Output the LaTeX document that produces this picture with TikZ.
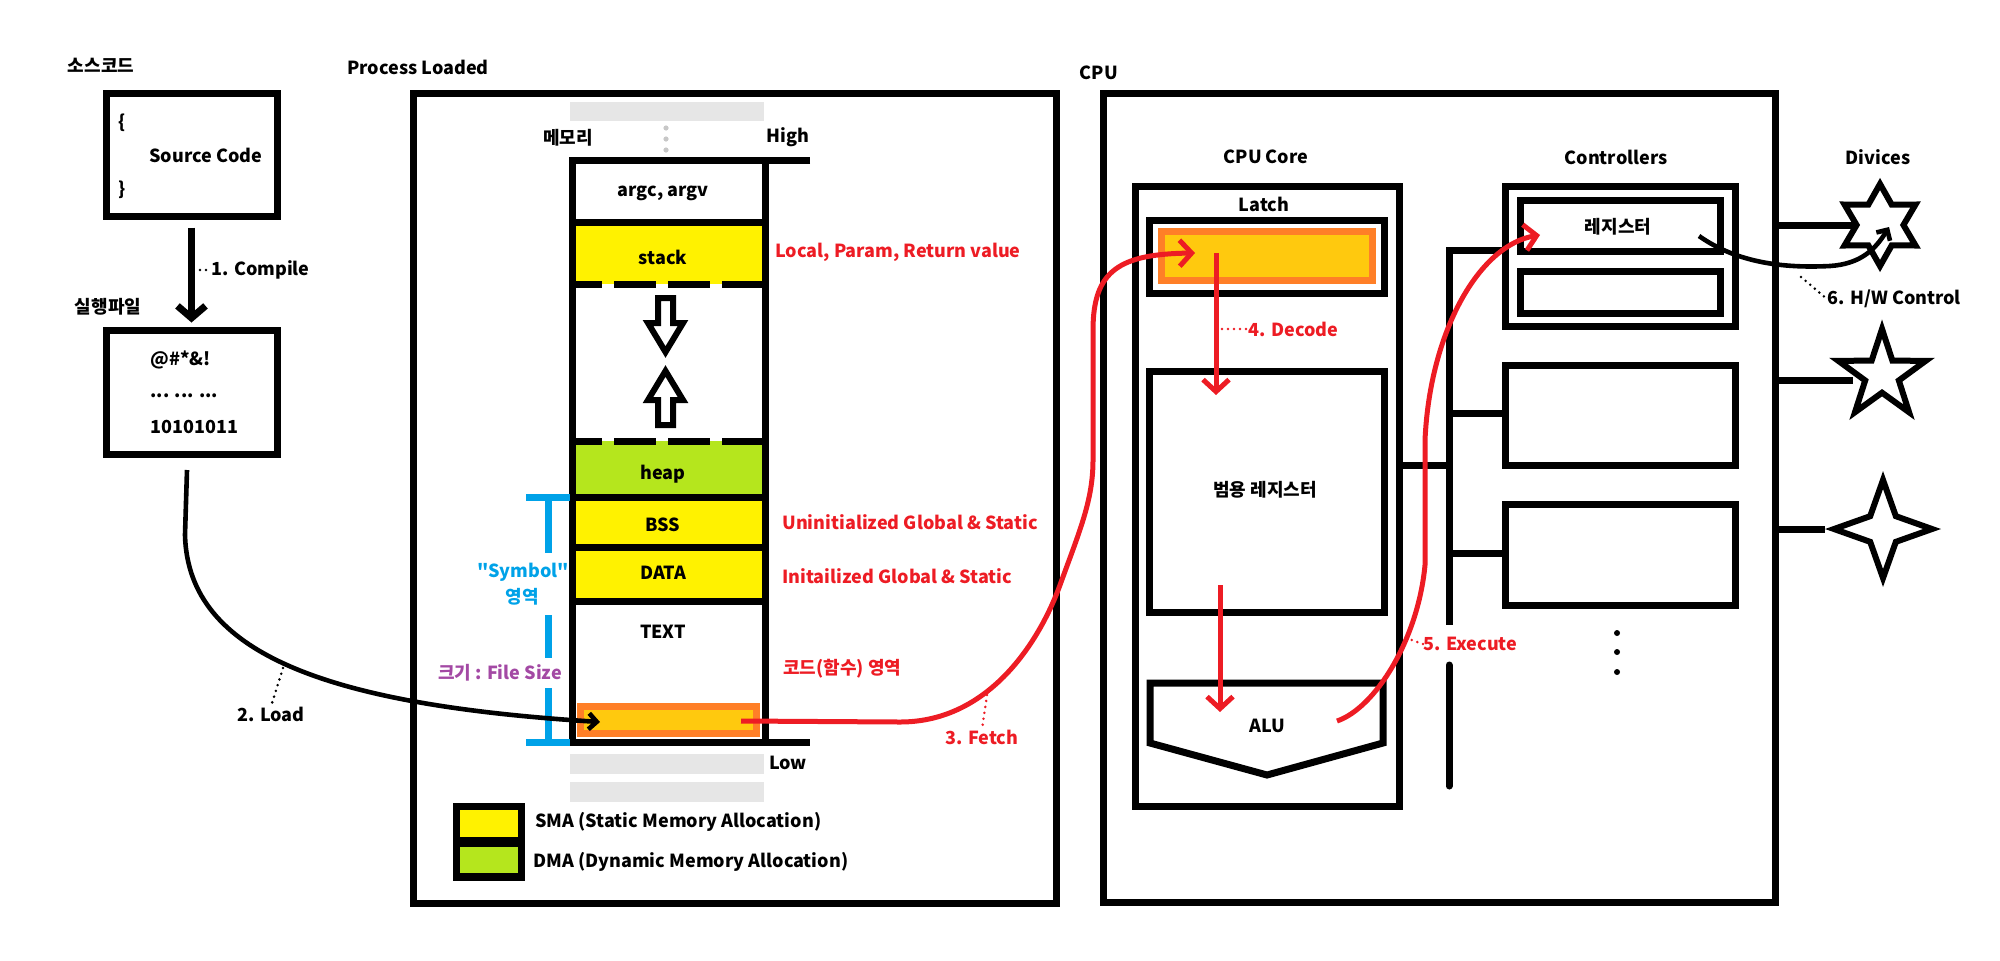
\documentclass[tikz,border=0pt]{standalone}
\usepackage{fontspec}
\setmainfont{Noto Sans CJK KR}[Ligatures=TeXOff]
\usetikzlibrary{shapes,arrows.meta,positioning}

\definecolor{pyellow}{HTML}{FFF200}
\definecolor{pgreen}{HTML}{B5E61D}
\definecolor{porange}{HTML}{FF7F27}
\definecolor{pgold}{HTML}{FFC90E}
\definecolor{pred}{HTML}{ED1C24}
\definecolor{pblue}{HTML}{00A2E8}
\definecolor{ppurple}{HTML}{A349A4}
\definecolor{pgrey}{HTML}{E6E6E6}

\begin{document}
\begin{tikzpicture}[x=0.5pt,y=-0.5pt,
  box/.style={draw,line width=3.5pt,inner sep=0pt},
  wall/.style={line width=3.5pt},
  txt/.style={font=\bfseries\fontsize{9}{10}\selectfont,inner sep=0pt},
  redtxt/.style={txt,text=pred},
  hotbar/.style={draw=porange,fill=pgold,line width=3.5pt,inner sep=0pt},
  blkarrow/.style={line width=3.5pt,-{Straight Barb[length=6pt,width=14pt]}},
  thinarrow/.style={line width=2.3pt,-{Straight Barb[length=4pt,width=8pt]}},
  redarrow/.style={pred,line width=2.5pt,-{Straight Barb[length=6pt,width=13pt]}},
  leader/.style={line width=1.4pt,line cap=round,dash pattern=on 0pt off 3pt},
  hollow/.style={line width=3pt,line join=miter},
  devstar/.style={star,draw,line width=3pt,inner sep=0pt}]

\useasboundingbox (0,0) rectangle (2000,960);

% Source code
\node[txt] (srctitle) at (101,65) {소스코드};
\node[box,minimum width=85.5pt,minimum height=61.5pt] (srcbox) at (191.5,154.5) {};
\node[txt,anchor=west] (bropen) at (118,123) {\{};
\node[txt,anchor=west] (srctext) at (149,155) {Source Code};
\node[txt,anchor=west] (brclose) at (118,190) {\}};

% Executable file
\node[txt] (exetitle) at (108,307) {실행파일};
\node[box,minimum width=85.5pt,minimum height=62pt] (exebox) at (191.5,392) {};
\node[txt,anchor=west] (exe1) at (150,360) {@\#*\&!};
\node[txt,anchor=west] (exe2) at (150,396) {... ... ...};
\node[txt,anchor=west] (exe3) at (150,427) {10101011};

% 1. Compile
\draw[blkarrow,shorten <=4pt,shorten >=2pt] (srcbox) -- (exebox);
\node[txt,anchor=west] (compile) at (211,270) {1. Compile};
\coordinate (compdot) at (200,270);
\draw[leader] (compdot) -- ([xshift=-2pt]compile.west);

% Process loaded
\node[txt,anchor=west] (proctitle) at (347,67) {Process Loaded};
\node[box,minimum width=321.5pt,minimum height=405pt] (procbox) at (734.5,498) {};

% memory column
\fill[pgrey] (570,102) rectangle (764,121);
\foreach \y in {128,139,150} \fill[pgrey!70!gray] (666,\y) circle (2.6);
\node[txt] (memlbl) at (568,138) {메모리};
\node[txt] (high) at (788,137) {High};
\fill[pyellow] (572,222) rectangle (765,284);
\fill[pgreen] (572,441) rectangle (765,497);
\fill[pyellow] (572,497) rectangle (765,601);
\draw[wall] (810,160) -- (572,160) -- (572,742) -- (810,742);
\draw[wall] (765,160) -- (765,742);
\foreach \y in {222,497,547,601} \draw[wall] (572,\y) -- (765,\y);
\foreach \y in {284,441} \draw[wall,dash pattern=on 21pt off 6pt,dash phase=6pt] (572,\y) -- (765,\y);
\node[txt] (argc) at (663,193) {argc, argv};
\node[txt] (stack) at (663,257) {stack};
\node[txt] (heap) at (663,474) {heap};
\node[txt] (bss) at (663,525) {BSS};
\node[txt] (data) at (663,573) {DATA};
\node[txt] (text) at (663,632) {TEXT};
\draw[hollow] (658,298) -- (673,298) -- (673,323) -- (683,323) -- (665.5,352) -- (648,323) -- (658,323) -- cycle;
\draw[hollow] (658,425) -- (673,425) -- (673,400) -- (683,400) -- (665.5,371) -- (648,400) -- (658,400) -- cycle;
\node[hotbar,minimum width=88pt,minimum height=13.5pt] (textbar) at (668.5,720) {};
\fill[pgrey] (570,754) rectangle (764,774);
\fill[pgrey] (570,782) rectangle (764,802);
\node[txt] (low) at (788,763) {Low};

% symbol bracket
\draw[pblue,line width=3.5pt] (526,497) -- (570,497) (548,497) -- (548,553) (548,615) -- (548,658)
  (548,688) -- (548,742) (526,742) -- (570,742);
\node[txt,text=pblue] (symbol) at (523,572) {"Symbol"};
\node[txt,text=pblue] (symarea) at (522,597) {영역};
\node[txt,text=ppurple] (fsize) at (500,673) {크기 : File Size};

% red notes
\node[redtxt,anchor=west] (stacknote) at (775,252) {Local, Param, Return value};
\node[redtxt,anchor=west] (bssnote) at (782,522) {Uninitialized Global \& Static};
\node[redtxt,anchor=west] (datanote) at (782,576) {Initailized Global \& Static};
\node[redtxt,anchor=west] (textnote) at (783,669) {코드(함수) 영역};

% legend
\fill[black] (453,803) rectangle (525,881);
\fill[pyellow] (460,810) rectangle (518,837);
\fill[pgreen] (460,847) rectangle (518,873);
\node[txt,anchor=west] (sma) at (535,822) {SMA (Static Memory Allocation)};
\node[txt,anchor=west] (dma) at (533,862) {DMA (Dynamic Memory Allocation)};

% 2. Load
\coordinate (ldstart) at (187,470);
\coordinate (ldend) at (600,722);
\draw[thinarrow] (ldstart) -- (185,535) .. controls (188,655) and (330,705) .. (ldend);
\node[txt] (load) at (271,714) {2. Load};
\coordinate (ldpt) at (283,668);
\draw[leader] (ldpt) -- (load.north);

% CPU
\node[txt] (cputitle) at (1099,73) {CPU};
\node[box,minimum width=336pt,minimum height=404.5pt] (cpubox) at (1439,497.5) {};
\node[txt] (coretitle) at (1266,157) {CPU Core};
\node[box,minimum width=132pt,minimum height=310pt] (corebox) at (1267,496) {};
\node[txt] (latchtitle) at (1264,204) {Latch};
\node[box,minimum width=117.5pt,minimum height=36.5pt] (latchbox) at (1266.5,256.5) {};
\node[hotbar,minimum width=105.5pt,minimum height=24.5pt] (latchbar) at (1267,256) {};
\node[box,minimum width=117.5pt,minimum height=120.5pt] (gprbox) at (1266.5,491.5) {};
\node[txt] (gpr) at (1265,490) {범용 레지스터};
\draw[wall] (1150,683) -- (1383,683) -- (1383,743) -- (1267,775) -- (1150,743) -- cycle;
\node[txt] (alu) at (1267,726) {ALU};

% bus and controllers
\draw[wall] (1505,250) -- (1449,250) -- (1449,625);
\draw[wall,line cap=round] (1449,665) -- (1449,786);
\draw[wall] (1399,465) -- (1449,465);
\draw[wall] (1449,413) -- (1505,413);
\draw[wall] (1449,553) -- (1505,553);
\node[txt] (ctrltitle) at (1616,157) {Controllers};
\node[box,minimum width=115pt,minimum height=70pt] (ctrl1) at (1620,256) {};
\node[box,minimum width=100pt,minimum height=25.5pt] (ctrlreg) at (1620,225.5) {};
\node[txt] (ctrlregtxt) at (1618,227) {레지스터};
\node[box,minimum width=100pt,minimum height=21pt] (ctrlreg2) at (1620,292) {};
\node[box,minimum width=115pt,minimum height=50pt] (ctrl2) at (1620,415) {};
\node[box,minimum width=115pt,minimum height=50.5pt] (ctrl3) at (1620,554.5) {};
\foreach \y in {633,652,672} \fill (1617,\y) circle (3);

% devices
\node[txt] (devtitle) at (1878,157) {Divices};
\node[devstar,star points=6,star point ratio=1.75,minimum size=41pt] (dev1) at (1880,225) {};
\node[devstar,star points=5,star point ratio=2.6,minimum size=46pt] (dev2) at (1882,375) {};
\node[devstar,star points=4,star point ratio=2.7,minimum size=49pt] (dev3) at (1883,529) {};
\draw[wall] (cpubox.east |- dev1.west) -- (dev1.west);
\draw[wall] (cpubox.east |- 0,380) -- (dev2.west |- 0,380);
\draw[wall] (cpubox.east |- dev3.west) -- (dev3.west);

% 3. Fetch
\coordinate (fetch0) at (741,721);
\coordinate (fetch1) at (1195,253);
\draw[redarrow] (fetch0) -- (900,722) .. controls (990,722) and (1040,640) .. (1060,585)
  .. controls (1080,530) and (1093,500) .. (1093,460) -- (1093,330)
  .. controls (1093,270) and (1120,254) .. (fetch1);
\node[redtxt] (fetch) at (982,737) {3. Fetch};
\coordinate (ftpt) at (987,695);
\draw[leader,pred] (ftpt) -- (fetch.north);

% 4. Decode
\coordinate (dec0) at (1216,253);
\coordinate (dec1) at (1216,395);
\draw[redarrow] (dec0) -- (dec1);
\node[redtxt,anchor=west] (decode) at (1248,329) {4. Decode};
\coordinate (decpt) at (1222,329);
\draw[leader,pred] (decpt) -- (decode.west);

% register to ALU
\coordinate (ex0) at (1220,585);
\coordinate (ex1) at (1220,712);
\draw[redarrow] (ex0) -- (ex1);

% 5. Execute
\coordinate (run0) at (1337,721);
\coordinate (run1) at (1540,235);
\draw[redarrow] (run0) .. controls (1375,708) and (1418,640) .. (1425,565) -- (1425,440)
  .. controls (1430,330) and (1480,245) .. (run1);
\node[redtxt,anchor=west] (execute) at (1423,644) {5. Execute};
\coordinate (expt) at (1406,638);
\draw[leader,pred] (expt) -- (execute.west);

% 6. H/W Control
\coordinate (hw0) at (1699,236);
\coordinate (hw1) at (1889,227);
\draw[thinarrow] (hw0) .. controls (1740,265) and (1790,268) .. (1830,266)
  .. controls (1860,264) and (1875,250) .. (hw1);
\node[txt,anchor=west] (hwctl) at (1827,299) {6. H/W Control};
\coordinate (hwpt) at (1801,277);
\draw[leader] (hwpt) -- (hwctl.west);
\end{tikzpicture}
\end{document}
